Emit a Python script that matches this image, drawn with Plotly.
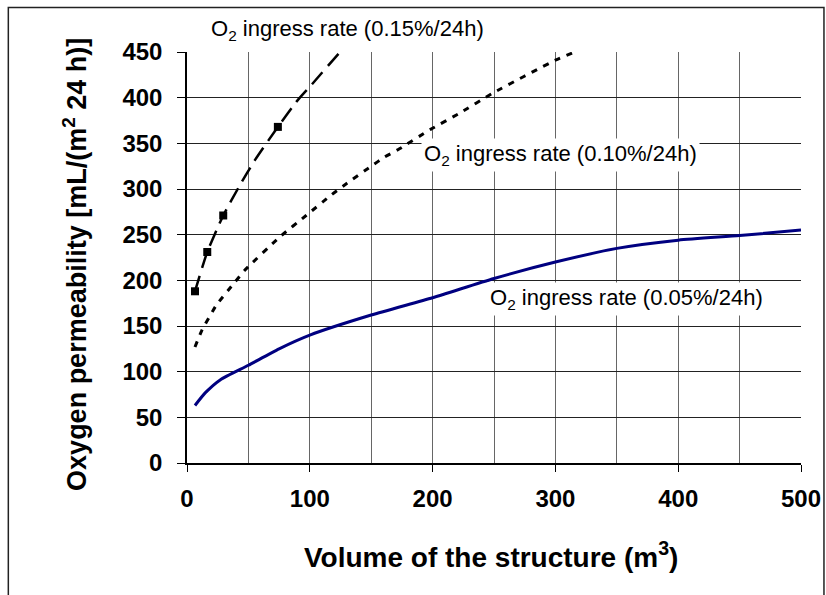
import plotly.graph_objects as go

# 0.05 %/24h (solid navy)
x_005 = [6.5, 15, 27, 50, 75, 100, 150, 200, 250, 300, 350, 400, 450, 500]
y_005 = [63, 77, 91, 107, 125, 140, 162, 181, 202, 220, 235, 244, 249, 255]

# 0.10 %/24h (dotted)
x_010 = [6.5, 12, 24, 39, 47, 76, 97, 118, 130, 150, 161, 173, 198, 222, 249, 300, 323]
y_010 = [127, 145, 173, 198, 211, 248, 271, 294, 306, 325, 335, 344, 365, 383, 405, 441, 454]

# 0.15 %/24h (dashed) with square markers
x_015 = [6.5, 16.5, 29.5, 43, 55, 74, 90, 100, 126, 135]
y_015 = [188, 231, 271, 304, 331, 368, 397, 412, 452, 465]
mark_x_015 = [6.5, 16.5, 29.5, 74]
mark_y_015 = [188, 231, 271, 368]

x_ticks = [0, 100, 200, 300, 400, 500]
y_ticks = [0, 50, 100, 150, 200, 250, 300, 350, 400, 450]

labels = ["O<sub>2</sub> ingress rate (0.15%/24h)",
          "O<sub>2</sub> ingress rate (0.10%/24h)",
          "O<sub>2</sub> ingress rate (0.05%/24h)"]

FONT = "Arial, Liberation Sans, sans-serif"

fig = go.Figure()
fig.add_trace(go.Scatter(x=x_005, y=y_005, mode="lines",
                         line=dict(color="#000080", width=3, shape="spline", smoothing=0.6),
                         showlegend=False))
fig.add_trace(go.Scatter(x=x_010, y=y_010, mode="lines",
                         line=dict(color="black", width=3, dash="6px,7px", shape="spline", smoothing=0.5),
                         showlegend=False))
fig.add_trace(go.Scatter(x=x_015, y=y_015, mode="lines",
                         line=dict(color="black", width=2.5, dash="16px,8px", shape="spline", smoothing=0.5),
                         showlegend=False))
fig.add_trace(go.Scatter(x=mark_x_015, y=mark_y_015, mode="markers",
                         marker=dict(symbol="square", size=8, color="black"),
                         showlegend=False))

ann_font = dict(family=FONT, size=22, color="black")
fig.add_annotation(x=0.262, y=1.0535, xref="paper", yref="paper", text=labels[0],
                   xanchor="center", yanchor="middle",
                   showarrow=False, font=ann_font, bgcolor="white", borderpad=2)
fig.add_annotation(x=304.5, y=337, xref="x", yref="y", text=labels[1],
                   xanchor="center", yanchor="middle",
                   showarrow=False, font=ann_font, bgcolor="white", borderpad=2)
fig.add_annotation(x=357.5, y=179.5, xref="x", yref="y", text=labels[2],
                   xanchor="center", yanchor="middle",
                   showarrow=False, font=ann_font, bgcolor="white", borderpad=2)

# axis titles
fig.add_annotation(x=0.495, y=-0.224, xref="paper", yref="paper",
                   xanchor="center", yanchor="middle",
                   text="Volume of the structure (m<sup>3</sup>)", showarrow=False,
                   font=dict(family=FONT, size=28, color="black", weight="bold"))
fig.add_annotation(x=-0.1824, y=0.482, xref="paper", yref="paper", textangle=-90,
                   xanchor="center", yanchor="middle",
                   text="Oxygen permeability [mL/(m<sup>2</sup> 24 h)]", showarrow=False,
                   font=dict(family=FONT, size=27, color="black", weight="bold"))

# outer frame
fig.add_shape(type="rect", xref="paper", yref="paper",
              x0=-0.291, x1=1.0374, y0=-0.34, y1=1.108,
              line=dict(color="#222", width=1.5), layer="below")

fig.update_layout(
    width=826, height=595,
    margin=dict(l=187, r=25, t=52, b=132),
    paper_bgcolor="white", plot_bgcolor="white",
    font=dict(family=FONT, color="black"),
)
fig.update_xaxes(range=[0, 500], tickvals=x_ticks, ticks="outside", ticklen=7,
                 tickcolor="black", showline=True, linecolor="black", linewidth=1.5,
                 showgrid=True, gridcolor="#666", gridwidth=1.3,
                 minor=dict(dtick=50, showgrid=True, gridcolor="#666", gridwidth=1.3, ticks=""),
                 tickfont=dict(family=FONT, size=24, weight="bold", color="black"),
                 ticklabelstandoff=6, zeroline=False, fixedrange=True, automargin=False)
fig.update_yaxes(range=[0, 450], tickvals=y_ticks, ticks="outside", ticklen=8,
                 tickcolor="black", showline=True, linecolor="black", linewidth=1.5,
                 showgrid=True, gridcolor="#222", gridwidth=1,
                 tickfont=dict(family=FONT, size=24, weight="bold", color="black"),
                 ticklabelstandoff=10, zeroline=False, fixedrange=True, automargin=False)

fig.write_html("out.html", config={"displayModeBar": False},
               post_script="document.body.style.margin='0';document.body.style.overflow='hidden';")
